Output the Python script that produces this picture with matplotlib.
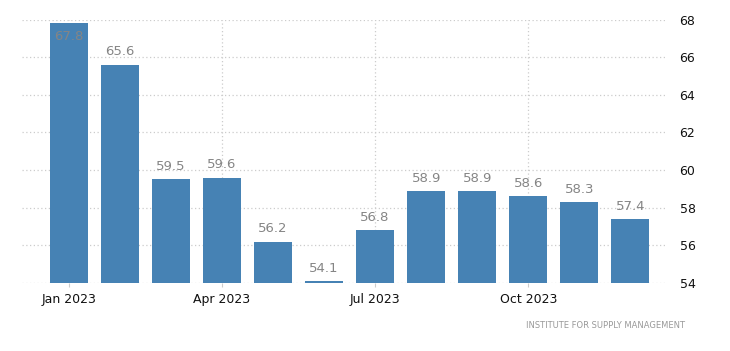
import matplotlib.pyplot as plt
import numpy as np

months = ['Jan 2023', 'Feb 2023', 'Mar 2023', 'Apr 2023', 'May 2023', 'Jun 2023',
          'Jul 2023', 'Aug 2023', 'Sep 2023', 'Oct 2023', 'Nov 2023', 'Dec 2023']
values = [67.8, 65.6, 59.5, 59.6, 56.2, 54.1, 56.8, 58.9, 58.9, 58.6, 58.3, 57.4]
tick_idx = [0, 3, 6, 9]
y_ticks = [54, 56, 58, 60, 62, 64, 66, 68]
source = 'INSTITUTE FOR SUPPLY MANAGEMENT'

BAR_COLOR = '#4682b4'
LABEL_COLOR = '#858585'
GRID_COLOR = '#cccccc'

fig = plt.figure(figsize=(7.30, 3.51), dpi=100)
ax = fig.add_axes([0.0301, 0.1937, 0.8836, 0.7507])

x = np.arange(len(months))
ax.bar(x, values, width=0.74, color=BAR_COLOR, zorder=2)

ymin, ymax = 54, 68
for xi, v in zip(x, values):
    if v + 0.9 > ymax:
        ax.annotate(f'{v:.1f}', (xi, v), xytext=(0, -5), textcoords='offset points',
                    ha='center', va='top', color=LABEL_COLOR, fontsize=9.5, zorder=3)
    else:
        ax.annotate(f'{v:.1f}', (xi, v), xytext=(0, 4.5), textcoords='offset points',
                    ha='center', va='bottom', color=LABEL_COLOR, fontsize=9.5, zorder=3)

ax.set_xlim(-0.92, 11.72)
ax.set_ylim(ymin, ymax)
ax.set_xticks(tick_idx)
ax.set_xticklabels([months[i] for i in tick_idx], fontsize=9, color='#111111')
ax.set_yticks(y_ticks)
ax.yaxis.tick_right()
ax.tick_params(axis='y', length=0, pad=9, labelsize=9, labelcolor='#111111')
ax.tick_params(axis='x', length=3, color=GRID_COLOR, pad=4)

for s in ax.spines.values():
    s.set_visible(False)

ax.grid(True, color=GRID_COLOR, linestyle=(0, (1, 2)), linewidth=0.9, zorder=0)
ax.set_axisbelow(True)

fig.text(0.938, 0.072, source, ha='right', va='center', fontsize=6,
         color='#999999')

fig.savefig('out.png', dpi=100)
